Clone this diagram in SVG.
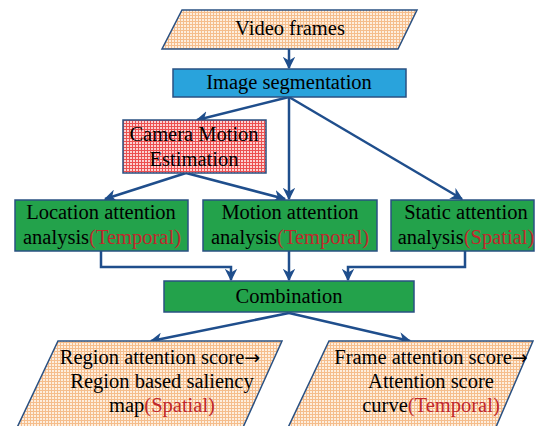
<svg xmlns="http://www.w3.org/2000/svg" width="535" height="426" viewBox="0 0 535 426">
<defs>
<pattern id="orng" width="3" height="3" patternUnits="userSpaceOnUse">
<rect width="3" height="3" fill="#fdeede"/>
<path d="M0,0.5 H3 M0.5,0 V3" stroke="#f5bd8c" stroke-width="1"/>
</pattern>
<pattern id="redg" width="3" height="3" patternUnits="userSpaceOnUse">
<rect width="3" height="3" fill="#fbd2d2"/>
<path d="M0,0.5 H3 M0.5,0 V3" stroke="#ec5050" stroke-width="1"/>
</pattern>
<marker id="ah" viewBox="0 0 10 10" refX="9" refY="5" markerWidth="5" markerHeight="5" orient="auto" markerUnits="strokeWidth">
<path d="M0,0 L10,5 L0,10 L3,5 z" fill="#1f4e8c"/>
</marker>
</defs>
<style>
.t{font-family:"Liberation Serif","Times New Roman",serif;font-size:20.5px;fill:#000;text-anchor:middle}
.r{fill:#c0282d}
.ar{font-family:"DejaVu Sans",sans-serif;font-size:19px}
.box{stroke:#2a5183;stroke-width:1.5}
.green{fill:#23a24b}
.c{fill:none;stroke:#1f4e8c;stroke-width:2.5;marker-end:url(#ah)}
</style>
<g id="connectors">
<path class="c" d="M289,49 V68"/>
<path class="c" d="M289,97 L197,120"/>
<path class="c" d="M289,97 V199"/>
<path class="c" d="M289,97 L462,199"/>
<path class="c" d="M186,173 L105,199"/>
<path class="c" d="M186,173 L285,199"/>
<path class="c" d="M101,251 V267 H231 V280"/>
<path class="c" d="M289,251 V280"/>
<path class="c" d="M465,251 V267 H348 V280"/>
<path class="c" d="M289,313 L151,341"/>
<path class="c" d="M289,313 L410,341"/>
</g>
<g id="video-frames">
<polygon class="box" points="182,10 417,10 398,49 162,49" fill="url(#orng)"/>
<text class="t" x="290" y="35">Video frames</text>
</g>
<g id="image-segmentation">
<rect class="box" x="173" y="69" width="233" height="28" fill="#29a3dc"/>
<text class="t" x="289" y="89">Image segmentation</text>
</g>
<g id="camera-motion">
<rect class="box" x="123" y="120" width="143" height="53" fill="url(#redg)"/>
<text class="t" x="194" y="141">Camera Motion</text>
<text class="t" x="194" y="166">Estimation</text>
</g>
<g id="location-attention">
<rect class="box green" x="15" y="200" width="173" height="51"/>
<text class="t" x="101" y="219">Location attention</text>
<text class="t" x="102" y="244">analysis<tspan class="r">(Temporal)</tspan></text>
</g>
<g id="motion-attention">
<rect class="box green" x="203" y="200" width="174" height="51"/>
<text class="t" x="290" y="219">Motion attention</text>
<text class="t" x="290" y="244">analysis<tspan class="r">(Temporal)</tspan></text>
</g>
<g id="static-attention">
<rect class="box green" x="391" y="200" width="143" height="51"/>
<text class="t" x="466" y="219">Static attention</text>
<text class="t" x="466" y="244">analysis<tspan class="r">(Spatial)</tspan></text>
</g>
<g id="combination">
<rect class="box green" x="164" y="281" width="250" height="31"/>
<text class="t" x="289" y="303">Combination</text>
</g>
<g id="region-output">
<polygon class="box" points="58,341 282,341 240,434 14,434" fill="url(#orng)"/>
<text class="t" x="160" y="364">Region attention score<tspan class="ar">→</tspan></text>
<text class="t" x="162" y="388">Region based saliency</text>
<text class="t" x="162" y="412">map<tspan class="r">(Spatial)</tspan></text>
</g>
<g id="frame-output">
<polygon class="box" points="329,341 533,341 493,434 285,434" fill="url(#orng)"/>
<text class="t" x="431" y="364">Frame attention score<tspan class="ar">→</tspan></text>
<text class="t" x="431" y="388">Attention score</text>
<text class="t" x="431" y="412">curve<tspan class="r">(Temporal)</tspan></text>
</g>
</svg>
